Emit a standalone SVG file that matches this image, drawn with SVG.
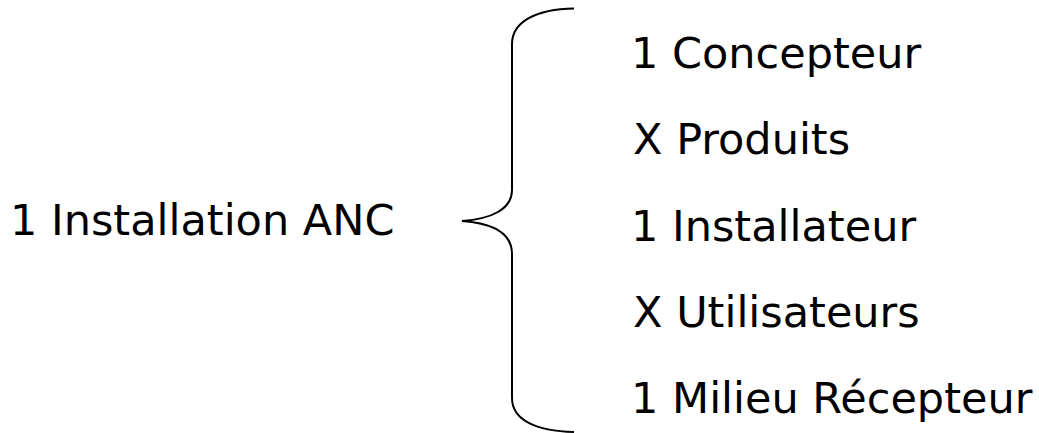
<svg xmlns="http://www.w3.org/2000/svg" width="1039" height="433" viewBox="0 0 1039 433">
<style>
text{font-family:"DejaVu Sans","Liberation Sans",sans-serif;font-size:43px;fill:#000}
.brace{fill:none;stroke:#000;stroke-width:2}
</style>
<rect width="1039" height="433" fill="#fff"/>
<g id="source"><text x="10" y="235">1 Installation ANC</text></g>
<g id="connectors"><path class="brace" d="M574,8.5 C536,9 512,22 512,44 L512,190 C512,210 490,219 462,221 C490,223 512,232 512,254 L512,398 C512,420 536,431 574,432"/></g>
<g id="n1"><text x="631" y="68">1 Concepteur</text></g>
<g id="n2"><text x="633" y="154">X Produits</text></g>
<g id="n3"><text x="631" y="241">1 Installateur</text></g>
<g id="n4"><text x="633" y="327">X Utilisateurs</text></g>
<g id="n5"><text x="631" y="413">1 Milieu Récepteur</text></g>
</svg>
